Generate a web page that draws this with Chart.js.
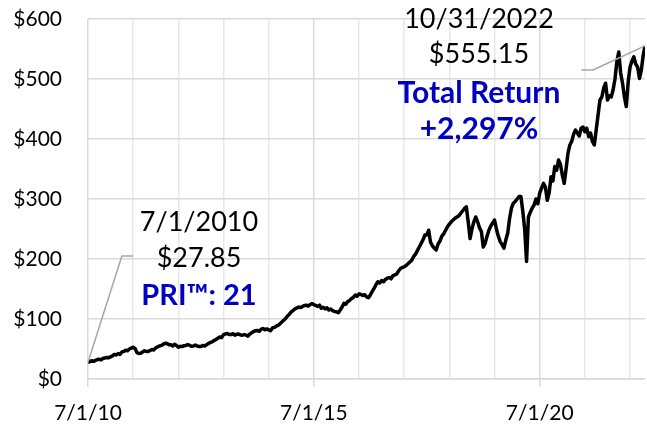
<!DOCTYPE html>
<html>
<head>
<meta charset="utf-8">
<script src="https://cdn.jsdelivr.net/npm/chart.js@4.4.1/dist/chart.umd.min.js"></script>
<style>
  html, body { margin: 0; padding: 0; background: #ffffff; }
  #wrap { width: 647px; height: 428px; position: relative; }
</style>
</head>
<body>
<div id="wrap"><canvas id="chart"></canvas></div>
<script>
// Semi-monthly values (1st and 16th of each month) of the investment, one array per year.
const firstYear = 2010;
const firstMonth = 7;            // series starts 7/1/2010
const v2010 = [27.85, 29, 30.5, 29.5, 31, 32.5, 33, 32, 34.5, 35, 36, 35.5];
const v2011 = [37, 38.5, 41, 40, 42.5, 41, 45, 46, 48, 47, 50, 51.5,
               53, 51, 44, 42.5, 43, 45, 47, 46, 46, 47.5, 49, 48.5];
const v2012 = [52, 53.5, 55, 56, 58, 59.5, 59, 57, 57, 55, 58, 56,
               53, 54.5, 54, 55.5, 56, 57.5, 56, 54.5, 55, 56.5, 55, 54];
const v2013 = [54, 56, 55, 57, 59, 61, 62, 64, 66, 68, 70, 69,
               74, 75, 76, 74, 74, 75.5, 73, 74.5, 75, 73.5, 73, 74];
const v2014 = [73, 71.5, 75, 77, 79, 80.5, 81, 79.5, 83, 84, 82, 83.5,
               82, 80.5, 85, 86, 88, 89.5, 92, 95, 98, 101, 105, 108];
const v2015 = [112, 114, 117, 118.5, 120, 119, 121, 122.5, 123, 121.5, 124, 125.5,
               124, 122.5, 121, 123, 118, 119.5, 117, 118.5, 115, 116.5, 114, 112.5];
const v2016 = [112, 110.5, 115, 120, 126, 124.5, 129, 131, 134, 136, 140, 138,
               142, 141, 139, 140.5, 137, 135.5, 140, 146, 151, 157, 162, 160];
const v2017 = [164, 162, 166, 168, 169, 167, 172, 173.5, 175, 180, 184, 186,
               187, 189, 192, 195, 198, 204, 208, 214, 220, 226, 232, 240];
const v2018 = [240, 248, 228, 222, 218, 215, 225, 230, 238, 242, 248, 254,
               258, 262, 265, 268, 270, 272, 276, 280, 284, 287, 262, 234];
const v2019 = [250, 262, 270, 262, 252, 246, 220, 226, 238, 248, 255, 260,
               265, 250, 238, 229, 224, 218, 232, 243, 268, 285, 293, 296];
const v2020 = [300, 304, 304, 280, 250, 196, 270, 278, 285, 290, 300, 292,
               310, 318, 326, 320, 298, 310, 337, 330, 354, 348, 365, 358];
const v2021 = [340, 326, 350, 376, 390, 396, 408, 415, 410, 405, 418, 420,
               412, 418, 404, 410, 396, 390, 415, 440, 465, 470, 485, 493];
const v2022 = [465, 472, 470, 482, 500, 530, 545, 510, 493, 470, 454, 495,
               520, 530, 537, 525, 520, 501, 515, 540];
// final observation, 10/31/2022
const lastYear = 2022, lastMonth = 10, lastDay = 31;
const lastValue = 555.15;

// axis ticks
const yTicks = [0, 100, 200, 300, 400, 500, 600];
const xGridYears = [2010, 2011, 2012, 2013, 2014, 2015, 2016, 2017, 2018, 2019, 2020, 2021, 2022];
const xLabelYears = [2010, 2015, 2020];

// annotation text
const startDateText = '7/1/2010';
const startNote = 'PRI\u2122: 21';
const endDateText = '10/31/2022';
const endNote = ['Total Return', '+2,297%'];

// ---- build the series on a decimal-year axis ----
const yearly = [v2010, v2011, v2012, v2013, v2014, v2015, v2016, v2017, v2018, v2019, v2020, v2021, v2022];
const points = [];
yearly.forEach((arr, yi) => {
  const year = firstYear + yi;
  const m0 = yi === 0 ? firstMonth : 1;
  arr.forEach((v, k) => {
    const month = m0 + Math.floor(k / 2);
    const half = (k % 2) * 15 / 30;          // 1st or 16th of the month
    points.push({ x: year + (month - 1 + half) / 12, y: v });
  });
});
const lastX = lastYear + (lastMonth - 1 + (lastDay - 1) / 31) / 12;
points.push({ x: lastX, y: lastValue });
const firstPoint = points[0];
const lastPoint = points[points.length - 1];

const money = v => '$' + v.toFixed(2);

const FONT = 'Lato, "Open Sans", sans-serif';
const BLUE = '#0000c0';
const GRID = '#d9d9d9';
const GRID_MINOR = '#e8e8e8';
const LEADER = '#a6a6a6';

// callouts with leader lines to the first and last observation
const callouts = {
  id: 'callouts',
  afterDatasetsDraw(chart) {
    const { ctx, scales: { x, y } } = chart;
    ctx.save();
    ctx.strokeStyle = LEADER;
    ctx.lineWidth = 1.5;
    ctx.lineJoin = 'round';
    // start
    ctx.beginPath();
    ctx.moveTo(x.getPixelForValue(firstPoint.x), y.getPixelForValue(firstPoint.y));
    ctx.lineTo(x.getPixelForValue(2011.25), y.getPixelForValue(205));
    ctx.lineTo(x.getPixelForValue(2011.5), y.getPixelForValue(205));
    ctx.stroke();
    // end
    ctx.beginPath();
    ctx.moveTo(x.getPixelForValue(lastPoint.x), y.getPixelForValue(lastPoint.y));
    ctx.lineTo(x.getPixelForValue(2021.68), y.getPixelForValue(515));
    ctx.lineTo(x.getPixelForValue(2021.42), y.getPixelForValue(515));
    ctx.stroke();

    ctx.textAlign = 'center';
    ctx.textBaseline = 'middle';
    // start labels
    ctx.fillStyle = '#000000';
    ctx.font = '27px ' + FONT;
    ctx.fillText(startDateText, 199, 222);
    ctx.fillText(money(firstPoint.y), 199, 258);
    ctx.fillStyle = BLUE;
    ctx.font = 'bold 29px ' + FONT;
    ctx.fillText(startNote, 199, 296);
    // end labels
    ctx.fillStyle = '#000000';
    ctx.font = '27px ' + FONT;
    ctx.fillText(endDateText, 479, 19);
    ctx.fillText(money(lastPoint.y), 479, 54);
    ctx.fillStyle = BLUE;
    ctx.font = 'bold 30px ' + FONT;
    ctx.fillText(endNote[0], 479, 93);
    ctx.fillText(endNote[1], 479, 129);
    ctx.restore();
  }
};

const isMajor = v => xLabelYears.includes(Math.round(v - 0.5));

new Chart(document.getElementById('chart'), {
  type: 'line',
  data: {
    datasets: [{
      data: points,
      borderColor: '#000000',
      borderWidth: 3.5,
      borderJoinStyle: 'round',
      pointRadius: 0,
      tension: 0,
      fill: false
    }]
  },
  options: {
    responsive: true,
    maintainAspectRatio: false,
    animation: false,
    layout: { padding: { top: 19, right: 2, left: 0, bottom: 0 } },
    plugins: { legend: { display: false }, tooltip: { enabled: false } },
    scales: {
      x: {
        type: 'linear',
        min: firstPoint.x,
        max: lastPoint.x,
        afterBuildTicks: s => { s.ticks = xGridYears.map(yr => ({ value: yr + 0.5 })); },
        afterFit: s => { s.height = 49; s.paddingLeft = 0; s.paddingRight = 0; },
        grid: {
          color: c => (c.tick && isMajor(c.tick.value)) ? GRID : GRID_MINOR,
          tickColor: c => (c.tick && isMajor(c.tick.value)) ? GRID : 'rgba(0,0,0,0)',
          tickLength: 8,
          lineWidth: 1.5
        },
        border: { color: GRID, width: 1.5 },
        ticks: {
          autoSkip: false,
          maxRotation: 0,
          padding: 14,
          color: '#000000',
          font: { family: FONT, size: 21 },
          callback: v => isMajor(v) ? '7/1/' + String(Math.round(v - 0.5)).slice(2) : ''
        }
      },
      y: {
        min: 0,
        max: 600,
        afterBuildTicks: s => { s.ticks = yTicks.map(v => ({ value: v })); },
        afterFit: s => { s.width = 88; s.paddingTop = 0; s.paddingBottom = 0; },
        grid: { color: GRID, lineWidth: 1.5, drawTicks: false },
        border: { display: false },
        ticks: {
          padding: 26,
          color: '#000000',
          font: { family: FONT, size: 21 },
          callback: v => '$' + v
        }
      }
    }
  },
  plugins: [callouts]
});
</script>
</body>
</html>
